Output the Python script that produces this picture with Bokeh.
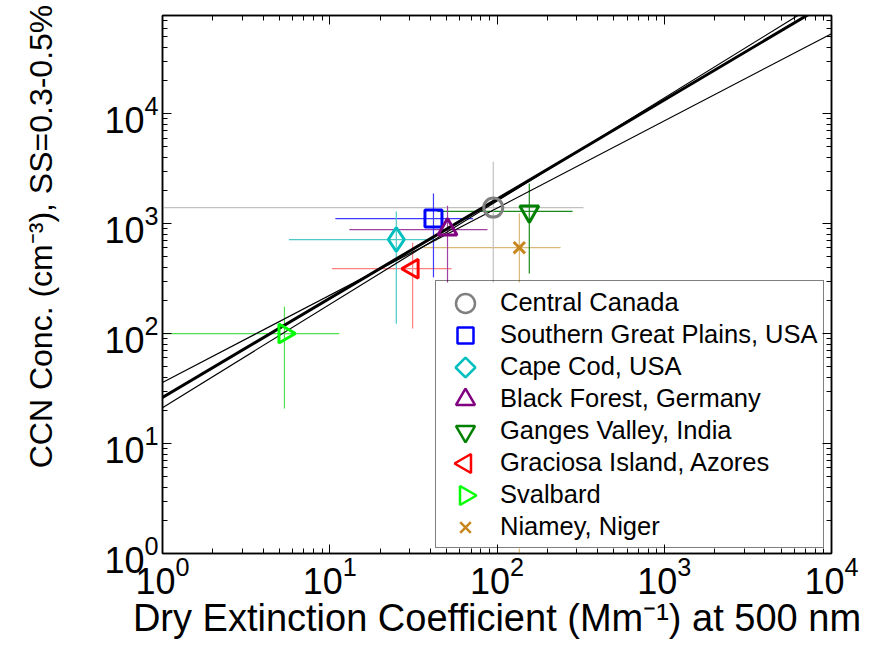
import math
from bokeh.plotting import figure
from bokeh.models import LogAxis, Legend, LegendItem, CustomJSTickFormatter, LogTicker, Range1d
from bokeh.embed import file_html
from bokeh.resources import INLINE

# ---------------- data ----------------
sites = ["Central Canada", "Southern Great Plains, USA", "Cape Cod, USA",
         "Black Forest, Germany", "Ganges Valley, India",
         "Graciosa Island, Azores", "Svalbard", "Niamey, Niger"]
ext = [95, 41.7, 25, 50.6, 156, 31.3, 5.36, 136]          # Mm^-1
ext_lo = [0.5, 10.8, 5.7, 13.1, 44, 10.3, 0.5, 36.3]
ext_hi = [329, 72, 44, 87.7, 283, 53.5, 11.4, 240]
ccn = [1397, 1110, 716, 882, 1290, 389, 100, 604]        # cm^-3
ccn_lo = [250, 324, 123, 230, 351, 111, 20.8, 0.5]
ccn_hi = [3640, 1880, 1290, 1450, 2310, 671, 176, 1235]

markers = ["circle", "square", "diamond", "triangle", "inverted_triangle",
           "triangle", "triangle", "x"]
marker_angles = [0, 0, 0, 0, 0, math.pi / 2, -math.pi / 2, 0]
marker_sizes = [19, 17, 24, 19, 19, 19, 19, 16]
legend_markers = ["circle", "square", "square", "triangle", "inverted_triangle",
                  "triangle", "triangle", "x"]
legend_angles = [0, 0, math.pi / 4, 0, 0, math.pi / 2, -math.pi / 2, 0]
legend_sizes = [19, 16, 14, 19, 19, 19, 19, 15]
marker_colors = ["#808080", "#0000ff", "#00bfbf", "#800080", "#008000",
                 "#ff0000", "#00ff00", "#c8861e"]
bar_colors = ["#c0c0c0", "#3c3cff", "#4cc8c8", "#a040a0", "#1a8a1a",
              "#ff8080", "#50e050", "#dcb878"]

# fitted power-law lines, given by their end points at x = 1 and x = 1e4
fit_x = [1, 1e4]
fit_y_main = [26.2, 106000]
fit_y_steep = [21.2, 120500]
fit_y_shallow = [35.9, 53300]

FONT = "Liberation Sans"
X_RANGE = (1, 1e4)
Y_RANGE = (1, 7.8e4)

# layout (pixels)
W, H = 870, 645
B_LEFT, B_RIGHT, B_TOP, B_BOTTOM = 162, 39, 15, 92
FRAME_W = W - B_LEFT - B_RIGHT
FRAME_H = H - B_TOP - B_BOTTOM
LEG_X, LEG_Y = 273, 5          # legend offset from frame bottom-left
LEG_W = 389
LEG_PAD, ROW_H, GLYPH_W, STANDOFF = 5, 32, 50, 9

p = figure(width=W, height=H, x_axis_type="log", y_axis_type="log",
           x_range=Range1d(*X_RANGE), y_range=Range1d(*Y_RANGE),
           output_backend="svg", toolbar_location=None,
           min_border_left=B_LEFT, min_border_right=B_RIGHT,
           min_border_top=B_TOP, min_border_bottom=B_BOTTOM)
p.grid.visible = False
p.outline_line_color = "black"
p.outline_line_width = 1.5
p.background_fill_color = "white"
p.border_fill_color = "white"

for ax in (p.xaxis[0], p.yaxis[0]):
    ax.ticker = LogTicker(num_minor_ticks=10)
    ax.major_tick_in = 9
    ax.major_tick_out = 0
    ax.minor_tick_in = 5
    ax.minor_tick_out = 0
    ax.axis_line_color = "black"
    ax.axis_line_width = 1.5
    ax.major_label_text_font = FONT
    ax.major_label_text_font_size = "36px"
    ax.major_label_text_color = "black"
    ax.major_label_standoff = 4
    ax.axis_label_text_font = FONT
    ax.axis_label_text_font_style = "normal"
    ax.axis_label_text_color = "black"
p.xaxis[0].major_label_standoff = 2

p.xaxis[0].axis_label = "Dry Extinction Coefficient (Mm⁻¹) at 500 nm"
p.xaxis[0].axis_label_text_font_size = "38px"
p.xaxis[0].axis_label_standoff = 0

# leading em-spaces lift the label so that it sits where the reference has it
p.yaxis[0].axis_label = "\u2003\u2003\u2003CCN Conc. (cm⁻³), SS=0.3-0.5%"
p.yaxis[0].axis_label_text_font_size = "32px"
p.yaxis[0].axis_label_standoff = 42

blank = CustomJSTickFormatter(code="return ''")
for side in ("right", "above"):
    a = LogAxis(ticker=LogTicker(num_minor_ticks=10), formatter=blank,
                major_tick_in=9, major_tick_out=0, minor_tick_in=5,
                minor_tick_out=0, axis_line_color="black", axis_line_width=1.5,
                major_label_standoff=0, major_label_text_font_size="1px")
    p.add_layout(a, side)

# error bars
p.segment(x0=ext_lo, x1=ext_hi, y0=ccn, y1=ccn, line_color=bar_colors, line_width=1.2)
p.segment(x0=ext, x1=ext, y0=ccn_lo, y1=ccn_hi, line_color=bar_colors, line_width=1.2)

# fit lines
p.line(fit_x, fit_y_shallow, line_color="black", line_width=1.2)
p.line(fit_x, fit_y_steep, line_color="black", line_width=1.2)
p.line(fit_x, fit_y_main, line_color="black", line_width=3)

items = []
for i, name in enumerate(sites):
    p.scatter(x=[ext[i]], y=[ccn[i]], marker=markers[i], angle=marker_angles[i],
              size=marker_sizes[i], line_color=marker_colors[i], fill_color=None,
              line_width=3)
    # invisible stand-in: the legend symbol is drawn as a glyph below
    ghost = p.scatter(x=[ext[i]], y=[ccn[i]], marker="circle", size=1,
                      line_alpha=0, fill_alpha=0)
    items.append(LegendItem(label=name, renderers=[ghost]))

# legend panel: white background and symbols drawn as glyphs
n = len(sites)
leg_h = 2 * LEG_PAD + n * ROW_H
lx0, lx1 = math.log10(X_RANGE[0]), math.log10(X_RANGE[1])
ly0, ly1 = math.log10(Y_RANGE[0]), math.log10(Y_RANGE[1])


def sx_to_data(sx):
    return 10 ** (lx0 + (sx / FRAME_W) * (lx1 - lx0))


def sy_to_data(sy):
    return 10 ** (ly0 + (sy / FRAME_H) * (ly1 - ly0))


p.quad(left=[sx_to_data(LEG_X)], right=[sx_to_data(LEG_X + LEG_W)],
       bottom=[sy_to_data(LEG_Y)], top=[sy_to_data(LEG_Y + leg_h)],
       fill_color="white", line_color=None)

sym_x = [sx_to_data(LEG_X + LEG_PAD + GLYPH_W / 2)] * n
sym_y = [sy_to_data(LEG_Y + leg_h - LEG_PAD - ROW_H * (i + 0.5)) for i in range(n)]
p.scatter(x=sym_x, y=sym_y, marker=legend_markers, angle=legend_angles,
          size=legend_sizes, line_color=marker_colors, fill_color=None,
          line_width=2.5)

legend = Legend(items=items, location=(LEG_X, LEG_Y), orientation="vertical",
                label_text_font=FONT, label_text_font_size="25.5px",
                label_text_color="black", glyph_width=GLYPH_W, glyph_height=ROW_H,
                label_height=ROW_H, spacing=0, padding=LEG_PAD, margin=0,
                label_standoff=STANDOFF, border_line_color="black",
                border_line_width=1, background_fill_alpha=0)
p.add_layout(legend)

open("out.html", "w").write(file_html(p, INLINE))
